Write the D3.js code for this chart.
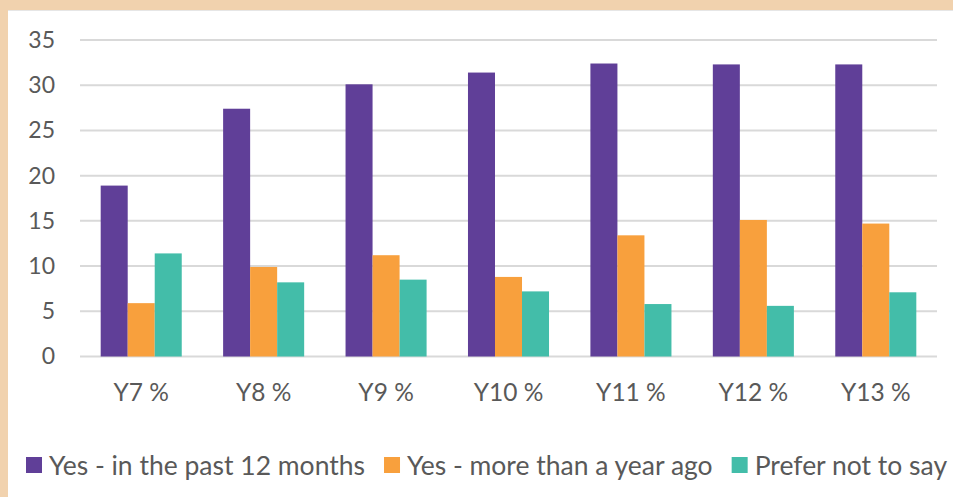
<!DOCTYPE html>
<html>
<head>
<meta charset="utf-8">
<script src="https://cdn.jsdelivr.net/npm/d3@7"></script>
<style>
  html, body { margin: 0; padding: 0; background: #f1d2ae; }
  svg { display: block; }
  text { font-family: Lato, "Open Sans", sans-serif; fill: #595959; }
</style>
</head>
<body>
<svg id="chart"></svg>
<script>
let categories = ["Y7 %", "Y8 %", "Y9 %", "Y10 %", "Y11 %", "Y12 %", "Y13 %"];
let seriesNames = ["Yes - in the past 12 months", "Yes - more than a year ago", "Prefer not to say"];
let past12 = [18.9, 27.4, 30.1, 31.4, 32.4, 32.3, 32.3];
let moreThanYear = [5.9, 9.9, 11.2, 8.8, 13.4, 15.1, 14.7];
let preferNot = [11.4, 8.2, 8.5, 7.2, 5.8, 5.6, 7.1];
let yTicks = [0, 5, 10, 15, 20, 25, 30, 35];

let width = 953,
    height = 497;

let colour = ['#603f98', '#f8a03d', '#43bda9'];

let svg = d3.select("#chart")
    .attr("width", width)
    .attr("height", height);

// frame
svg.append("rect")
    .attr("width", width).attr("height", height)
    .attr("fill", "#f1d2ae");
svg.append("rect")
    .attr("x", 8).attr("y", 10)
    .attr("width", width - 8).attr("height", height - 10)
    .attr("fill", "#ffffff");
svg.append("line")
    .attr("x1", 8).attr("x2", width)
    .attr("y1", 10.5).attr("y2", 10.5)
    .attr("stroke", "#e6e6e6");

let x = d3.scaleBand()
    .domain(categories)
    .range([80, 937])
    .paddingInner(0.338)
    .paddingOuter(0.169);

let xs = d3.scaleBand()
    .domain(d3.range(seriesNames.length))
    .range([0, x.bandwidth()]);

let y = d3.scaleLinear()
    .domain([0, 35])
    .range([356.5, 40]);

// gridlines
svg.append("g")
    .selectAll("line")
    .data(yTicks)
    .enter().append("line")
    .attr("x1", 80).attr("x2", 937)
    .attr("y1", d => y(d)).attr("y2", d => y(d))
    .attr("stroke", "#d9d9d9")
    .attr("stroke-width", 2);

// y axis labels
let yAxis = svg.append("g")
    .attr("transform", "translate(55,0)")
    .call(d3.axisLeft(y).tickValues(yTicks).tickSize(0).tickPadding(0));
yAxis.select(".domain").remove();
yAxis.selectAll("text")
    .attr("font-size", 23)
    .attr("fill", "#595959")
    .attr("font-family", "Lato, sans-serif");

// x axis labels
let xAxis = svg.append("g")
    .attr("transform", "translate(0,384)")
    .call(d3.axisBottom(x).tickSize(0).tickPadding(0));
xAxis.select(".domain").remove();
xAxis.selectAll("text")
    .attr("font-size", 24.5)
    .attr("fill", "#595959")
    .attr("font-family", "Lato, sans-serif");

let seriesData = [past12, moreThanYear, preferNot];

let groups = svg.append("g")
    .selectAll("g")
    .data(categories)
    .enter().append("g")
    .attr("transform", d => "translate(" + x(d) + ",0)");

groups.selectAll("rect")
    .data((d, i) => seriesData.map((s, k) => ({ k: k, v: s[i] })))
    .enter().append("rect")
    .attr("x", d => xs(d.k))
    .attr("width", xs.bandwidth())
    .attr("y", d => y(d.v))
    .attr("height", d => y(0) - y(d.v))
    .attr("fill", d => colour[d.k]);

// legend
let legend = svg.append("g").attr("transform", "translate(26,465)");
let lx = 0;
seriesNames.forEach((name, i) => {
    let item = legend.append("g").attr("transform", "translate(" + lx + ",0)");
    item.append("rect")
        .attr("x", 0).attr("y", -8)
        .attr("width", 16).attr("height", 16)
        .attr("fill", colour[i]);
    let t = item.append("text")
        .attr("x", 23)
        .attr("dy", "0.36em")
        .attr("font-size", 26.5)
        .text(name);
    lx += 23 + t.node().getComputedTextLength() + 19;
});
</script>
</body>
</html>
